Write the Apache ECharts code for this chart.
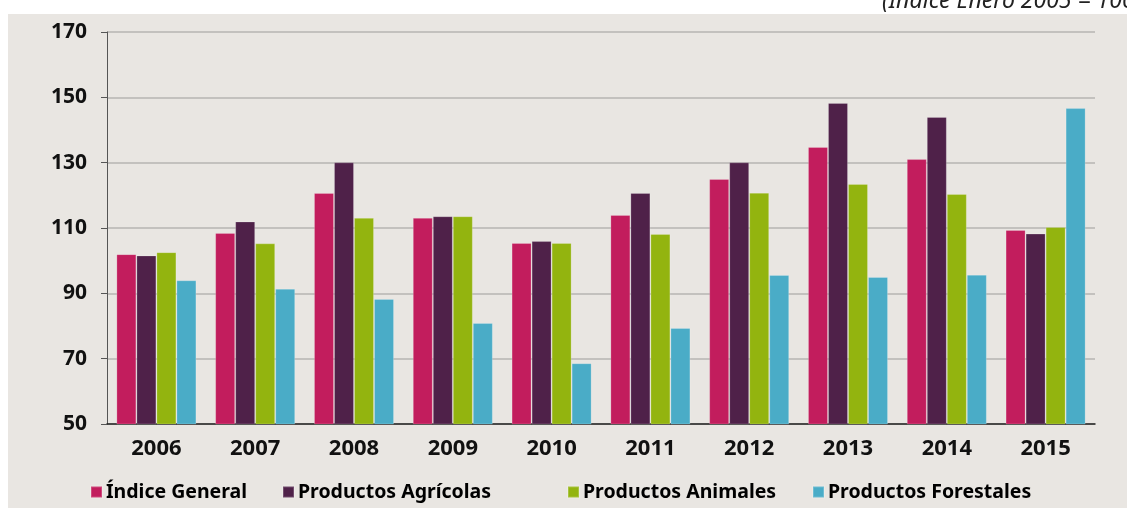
<!DOCTYPE html>
<html lang="es">
<head>
    <meta charset="UTF-8">
    <title>Índices de precios</title>
    <style>
        html, body { margin: 0; padding: 0; background: #fff; }
        .show { width: 1127px; height: 508px; }
    </style>
</head>
<body>
    <div class="show"></div>
    <script src="https://cdn.jsdelivr.net/npm/echarts@6/dist/echarts.min.js"></script>
    <script>
        // datos (Índice Enero 2005 = 100)
        const years = ['2006', '2007', '2008', '2009', '2010', '2011', '2012', '2013', '2014', '2015']
        const indiceGeneral = [102.0, 108.5, 120.7, 113.1, 105.4, 114.0, 125.0, 134.8, 131.1, 109.4]
        const agricolas = [101.6, 112.0, 130.1, 113.6, 106.0, 120.7, 130.1, 148.3, 144.0, 108.3]
        const animales = [102.6, 105.3, 113.1, 113.6, 105.4, 108.2, 120.8, 123.5, 120.4, 110.3]
        const forestales = [94.0, 91.4, 88.3, 80.9, 68.6, 79.4, 95.6, 95.0, 95.7, 146.7]
        const yTicks = [50, 70, 90, 110, 130, 150, 170]

        const names = ['Índice General', 'Productos Agrícolas', 'Productos Animales', 'Productos Forestales']
        const colors = ['#c21d5d', '#4f2149', '#93b40f', '#4aacc7']
        const values = [indiceGeneral, agricolas, animales, forestales]
        // posición x de cada entrada de la leyenda
        const legendLeft = [90, 282, 567, 812]

        const myChart = echarts.init(document.querySelector('.show'))

        const option = {
            animation: false,
            color: colors,
            textStyle: { fontFamily: 'Noto Sans' },
            graphic: [{
                type: 'rect',
                z: -10,
                shape: { x: 8, y: 14, width: 1119, height: 494 },
                style: { fill: '#e9e6e2' }
            }],
            title: {
                text: '(Índice Enero 2005 = 100)',
                left: 882,
                top: -10,
                padding: 0,
                textStyle: {
                    fontFamily: 'Noto Sans',
                    fontStyle: 'italic',
                    fontWeight: 'normal',
                    fontSize: 23,
                    color: '#222'
                }
            },
            // una leyenda por serie para respetar los espacios del original
            legend: names.map((n, i) => ({
                data: [n],
                left: legendLeft[i],
                top: 482,
                padding: 0,
                itemWidth: 11,
                itemHeight: 11,
                icon: 'rect',
                textStyle: {
                    fontFamily: 'Noto Sans',
                    fontWeight: 'bold',
                    fontSize: 19.5,
                    color: '#000',
                    padding: [0, 0, 0, -1]
                }
            })),
            grid: { left: 107, right: 32, top: 32, bottom: 84 },
            xAxis: {
                type: 'category',
                data: years,
                axisLine: { lineStyle: { color: '#222', width: 1.5 } },
                axisTick: { length: 7, lineStyle: { color: '#555', width: 1.5 } },
                axisLabel: { margin: 14, fontSize: 22, fontWeight: 'bold', color: '#111' }
            },
            yAxis: {
                type: 'value',
                min: yTicks[0],
                max: yTicks[yTicks.length - 1],
                interval: 20,
                axisLine: { show: true, lineStyle: { color: '#555', width: 1 } },
                axisTick: { show: true, length: 6, lineStyle: { color: '#555' } },
                axisLabel: { margin: 20, fontSize: 21, fontWeight: 'bold', color: '#111' },
                splitLine: { lineStyle: { color: '#c3c1be', width: 2 } }
            },
            series: names.map((n, i) => ({
                name: n,
                type: 'bar',
                data: values[i],
                barGap: '0%',
                barCategoryGap: '19%',
                itemStyle: {
                    color: colors[i],
                    borderColor: 'rgba(255,255,255,0.2)',
                    borderWidth: 1
                }
            }))
        }

        myChart.setOption(option)
    </script>
</body>
</html>
